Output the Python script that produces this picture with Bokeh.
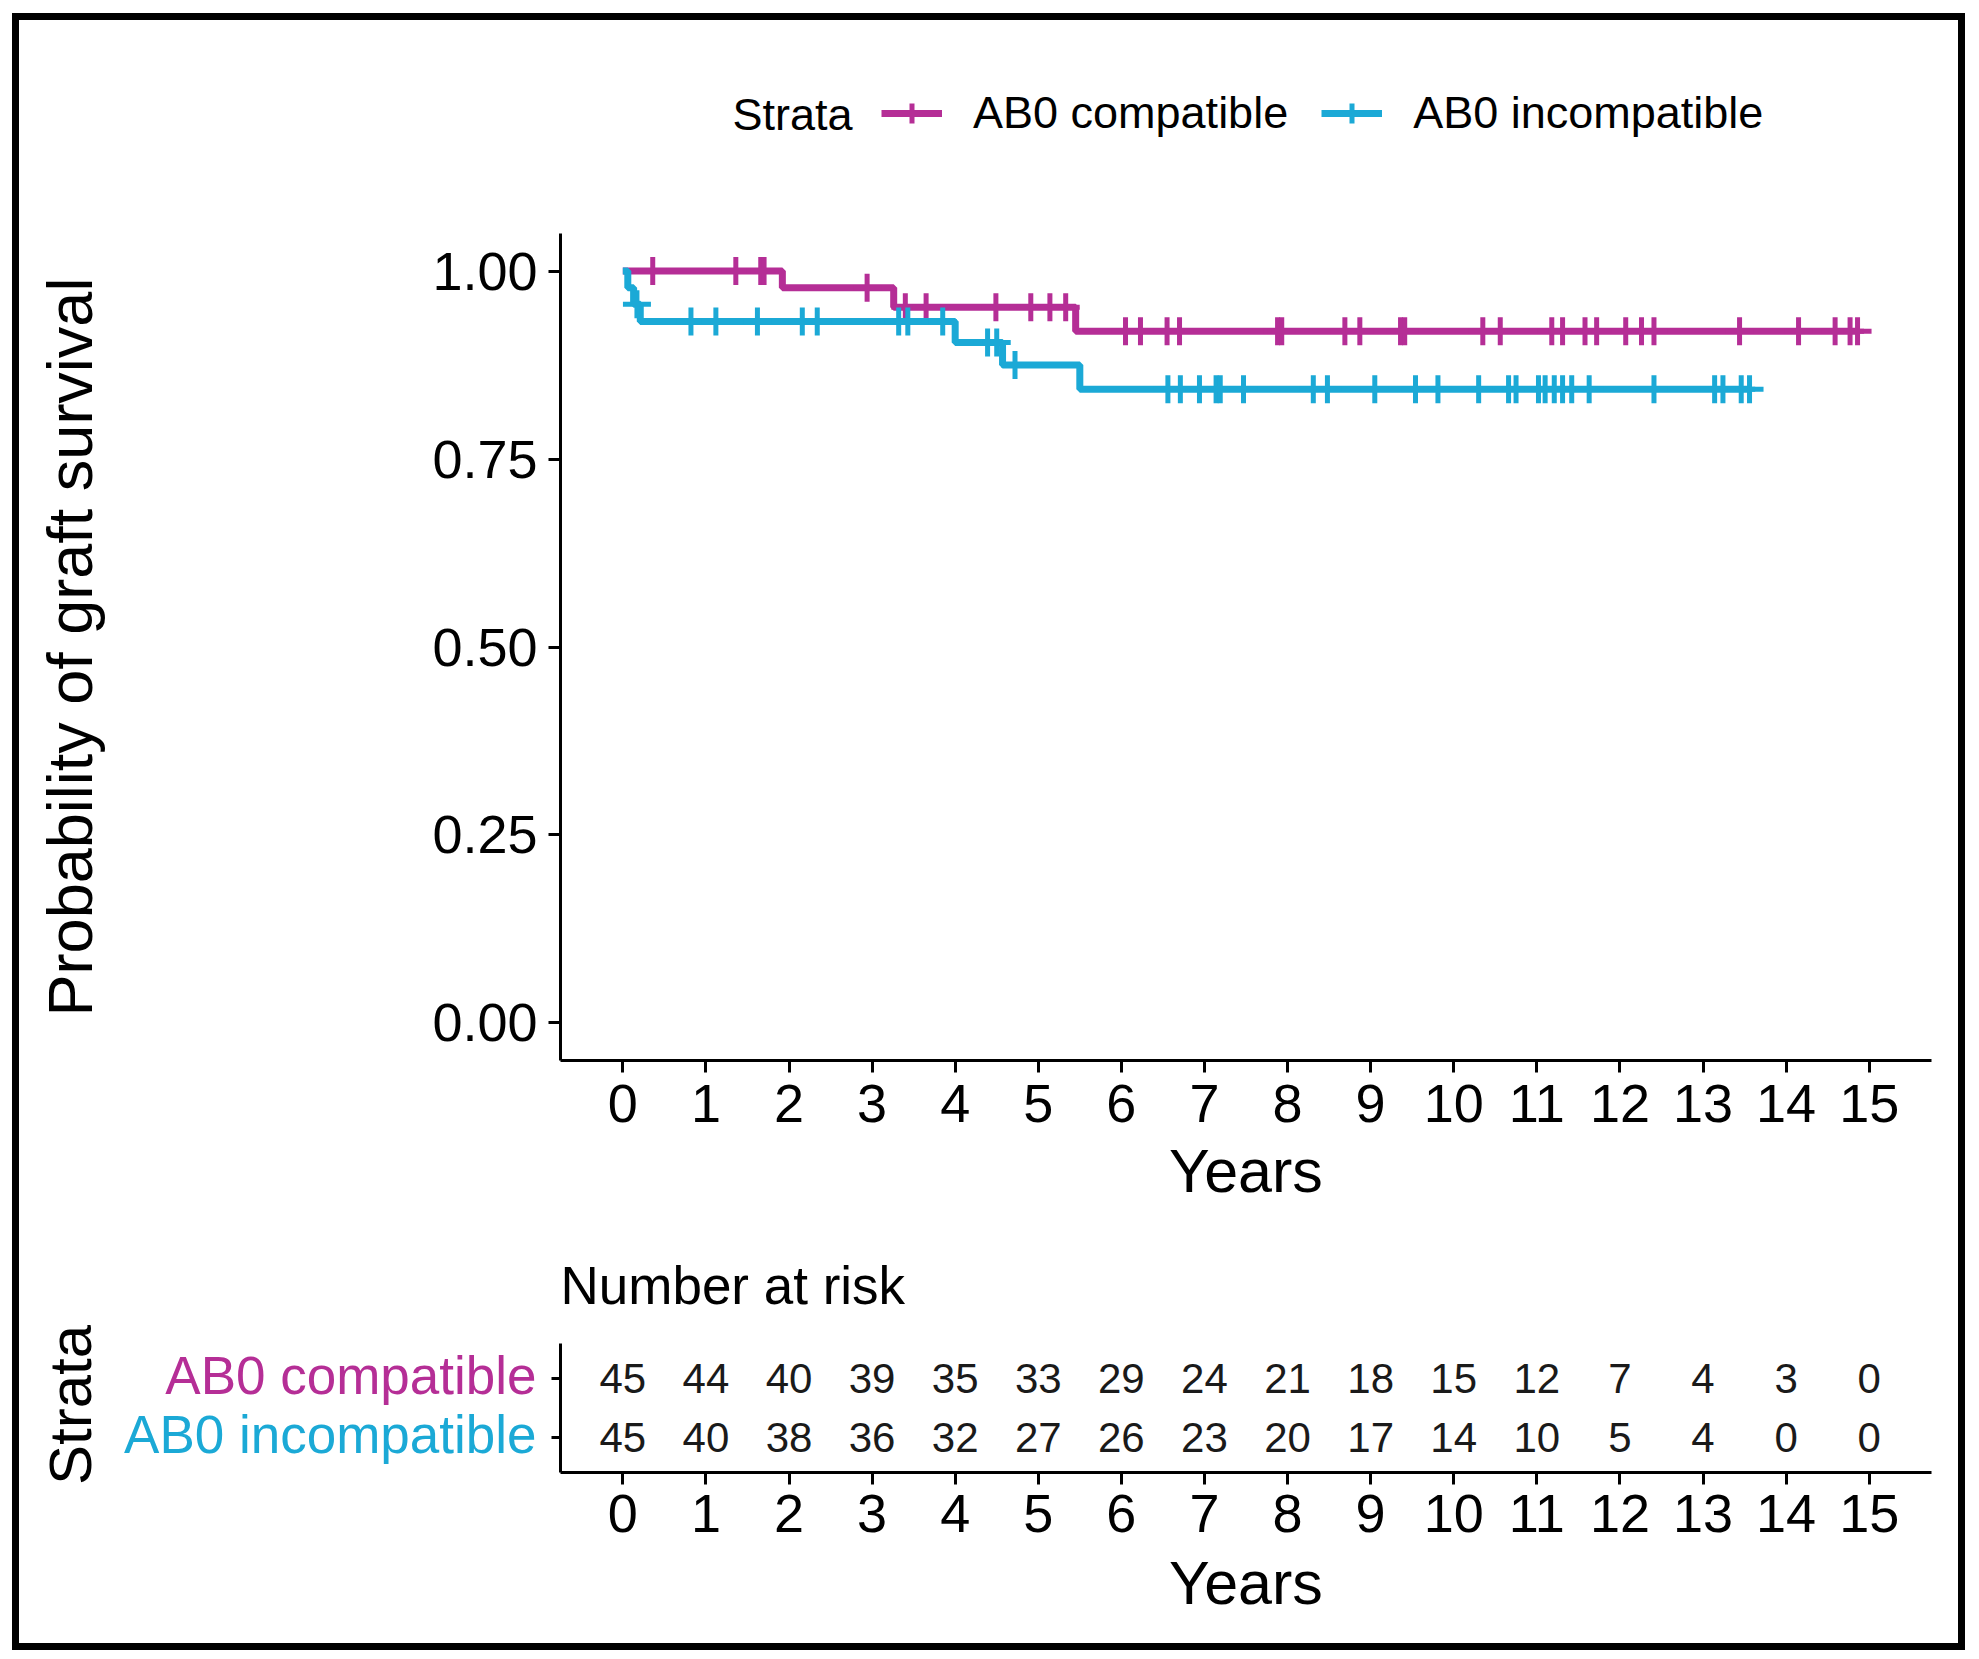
import numpy as np
from bokeh.plotting import figure
from bokeh.models import Range1d, FixedTicker, Legend, LegendItem, Label, Spacer
from bokeh.layouts import column, row
from bokeh.embed import file_html
from bokeh.resources import INLINE
from bokeh.core.properties import value

FONT = "Liberation Sans"

# ---------------- data ----------------
strata = ["AB0 compatible", "AB0 incompatible"]
colors = ["#B52E96", "#1BA9D6"]

# Kaplan-Meier step curves (time of step, survival after step)
comp_step_t = [0.0, 1.92, 3.26, 5.45, 14.86]
comp_step_s = [1.000, 0.978, 0.952, 0.920, 0.920]
incomp_step_t = [0.0, 0.06, 0.13, 0.21, 4.00, 4.57, 5.50, 13.56]
incomp_step_s = [1.000, 0.978, 0.956, 0.933, 0.905, 0.875, 0.843, 0.843]

# censoring times
comp_censor_t = [0.36, 1.36, 1.66, 1.70, 2.94, 3.40, 3.65, 4.49, 4.91, 5.14, 5.33,
                 6.05, 6.23, 6.55, 6.70, 7.88, 7.93, 8.69, 8.87, 9.36, 9.41,
                 10.35, 10.56, 11.18, 11.31, 11.58, 11.72, 12.07, 12.26, 12.41,
                 13.44, 14.15, 14.59, 14.77, 14.86]
incomp_censor_t = [0.17, 0.82, 1.12, 1.62, 2.16, 2.34, 3.32, 3.43, 3.85, 4.39, 4.50,
                   4.72, 6.56, 6.71, 6.94, 7.14, 7.19, 7.47, 8.31, 8.48, 9.05, 9.54,
                   9.81, 10.30, 10.66, 10.75, 11.02, 11.10, 11.21, 11.31, 11.42, 11.63,
                   12.41, 13.14, 13.24, 13.46, 13.56]

# number at risk table
risk_times = list(range(16))
risk_comp = [45, 44, 40, 39, 35, 33, 29, 24, 21, 18, 15, 12, 7, 4, 3, 0]
risk_incomp = [45, 40, 38, 36, 32, 27, 26, 23, 20, 17, 14, 10, 5, 4, 0, 0]
risk_rows = [2, 1]

x_ticks = list(range(16))
y_ticks = [0.0, 0.25, 0.5, 0.75, 1.0]
y_tick_labels = ["0.00", "0.25", "0.50", "0.75", "1.00"]


def surv_at(t, times, surv):
    idx = np.searchsorted(np.asarray(times), np.asarray(t), side="right") - 1
    return np.asarray(surv)[idx]


def style_axis(ax, tick_out=12, standoff=6):
    ax.axis_line_width = 3
    ax.axis_line_color = "black"
    ax.major_tick_line_width = 3
    ax.major_tick_line_color = "black"
    ax.major_tick_out = tick_out
    ax.major_tick_in = 0
    ax.minor_tick_out = 0
    ax.minor_tick_in = 0
    ax.major_label_text_font = FONT
    ax.major_label_text_font_size = "54px"
    ax.major_label_text_color = "black"
    ax.major_label_standoff = standoff
    ax.axis_label_text_font = FONT
    ax.axis_label_text_font_size = "61px"
    ax.axis_label_text_font_style = "normal"
    ax.axis_label_text_color = "black"


def bare(fig):
    fig.grid.visible = False
    fig.outline_line_color = None
    fig.background_fill_color = "white"
    fig.border_fill_color = "white"


W = 1939
LINE_W = 7
CROSS_SIZE = 28
CROSS_W = 5

# ---------------- header (legend) ----------------
HH = 150
hdr = figure(width=W, height=HH, x_range=Range1d(0, W), y_range=Range1d(0, HH),
             x_axis_type=None, y_axis_type=None, frame_align=False,
             min_border_left=0, min_border_right=0, min_border_top=0, min_border_bottom=0,
             output_backend="svg", toolbar_location=None)
bare(hdr)
LEG_Y = 56
legend_items = []
for col, name in zip(colors, strata):
    # invisible stand-ins (outside the header's range) that only provide the legend keys
    ln = hdr.line(x=[-50, -40], y=[-50, -50], line_color=col, line_width=LINE_W)
    cr = hdr.scatter(x=[-45], y=[-50], marker="cross", size=CROSS_SIZE, line_color=col,
                     line_width=CROSS_W)
    legend_items.append(LegendItem(label=name, renderers=[ln, cr]))
legend = Legend(items=legend_items, orientation="horizontal", location=(862, LEG_Y - 25),
                label_text_font=FONT, label_text_font_size="45px", label_text_color="black",
                glyph_width=61, glyph_height=50, label_height=50, label_standoff=31, spacing=33,
                padding=0, margin=0, border_line_color=None, background_fill_alpha=0)
hdr.add_layout(legend)
hdr.add_layout(Label(x=713, y=LEG_Y, text="Strata", text_font=FONT, text_font_size="45px",
                     text_color="black", text_align="left", text_baseline="middle"))

# ---------------- main survival plot ----------------
FW = 1371
FH = 827
p = figure(frame_width=FW, frame_height=FH,
           x_range=Range1d(-0.75, 15.75), y_range=Range1d(-0.05, 1.05), frame_align=False,
           min_border_left=541, min_border_right=27, min_border_top=63, min_border_bottom=165,
           output_backend="svg", toolbar_location=None)
bare(p)
style_axis(p.xaxis[0], tick_out=12, standoff=12)
style_axis(p.yaxis[0], tick_out=12, standoff=11)
p.xaxis[0].ticker = FixedTicker(ticks=x_ticks)
p.yaxis[0].ticker = FixedTicker(ticks=y_ticks)
p.yaxis[0].major_label_overrides = {t: l for t, l in zip(y_ticks, y_tick_labels)}
p.xaxis[0].axis_label = "Years"
p.xaxis[0].axis_label_standoff = 12
p.yaxis[0].axis_label = "Probability of graft survival"
p.yaxis[0].axis_label_text_font_size = "63px"
p.yaxis[0].axis_label_standoff = 324

curves = [(comp_step_t, comp_step_s, comp_censor_t), (incomp_step_t, incomp_step_s, incomp_censor_t)]
for (st, ss, ct), col in zip(curves, colors):
    p.step(st, ss, mode="after", line_color=col, line_width=LINE_W)
    p.scatter(ct, surv_at(ct, st, ss), marker="cross", size=CROSS_SIZE,
              line_color=col, line_width=CROSS_W)

# ---------------- risk table ----------------
RH = 129
RTOP = 115
RBOT = 171
RFIG_H = RTOP + RH + RBOT
RLEFT = 21
r = figure(frame_width=FW, frame_height=RH,
           x_range=Range1d(-0.75, 15.75), y_range=Range1d(0.4, 2.6), frame_align=False,
           min_border_left=RLEFT, min_border_right=27, min_border_top=RTOP, min_border_bottom=RBOT,
           output_backend="svg", toolbar_location=None)
bare(r)
style_axis(r.xaxis[0], tick_out=12, standoff=10)
style_axis(r.yaxis[0], tick_out=9, standoff=2)
r.xaxis[0].ticker = FixedTicker(ticks=x_ticks)
r.xaxis[0].axis_label = "Years"
r.xaxis[0].axis_label_standoff = 14
r.yaxis[0].ticker = FixedTicker(ticks=risk_rows)
r.yaxis[0].major_label_overrides = {1: "", 2: ""}

r.title.text = "Number at risk"
r.title.align = "left"
r.title.text_font = FONT
r.title.text_font_size = "53px"
r.title.text_font_style = "normal"
r.title.text_color = "black"
r.title.standoff = 57
r.title.offset = 0

for rowy, vals in zip(risk_rows, [risk_comp, risk_incomp]):
    r.text(x=risk_times, y=[rowy] * len(risk_times), text=[str(v) for v in vals],
           text_font=value(FONT), text_font_size="42px", text_color="#1a1a1a",
           text_align="center", text_baseline="middle")

# left block of the risk table: strata names and title, sharing the row scale
LW = W - (RLEFT + FW + 27)
ppu = RH / (2.6 - 0.4)
lft = figure(width=LW, height=RFIG_H, x_range=Range1d(0, LW),
             y_range=Range1d(0.4 - RBOT / ppu, 2.6 + RTOP / ppu),
             x_axis_type=None, y_axis_type=None, frame_align=False,
             min_border_left=0, min_border_right=0, min_border_top=0, min_border_bottom=0,
             output_backend="svg", toolbar_location=None)
bare(lft)
for rowy, name, col in zip(risk_rows, strata, colors):
    lft.text(x=[LW - 3], y=[rowy], text=[name], text_font=value(FONT), text_font_size="53px",
             text_color=col, text_align="right", text_baseline="middle")
lft.text(x=[51], y=[1.5], text=["Strata"], angle=np.pi / 2, text_font=value(FONT),
         text_font_size="60px", text_color="black", text_align="center", text_baseline="middle")

framed = column(hdr, p, row(lft, r),
                styles={"border": "7px solid black", "background-color": "white"})
layout = row(Spacer(width=12, height=12), column(Spacer(width=12, height=13), framed))

open("out.html", "w").write(file_html(layout, INLINE))
